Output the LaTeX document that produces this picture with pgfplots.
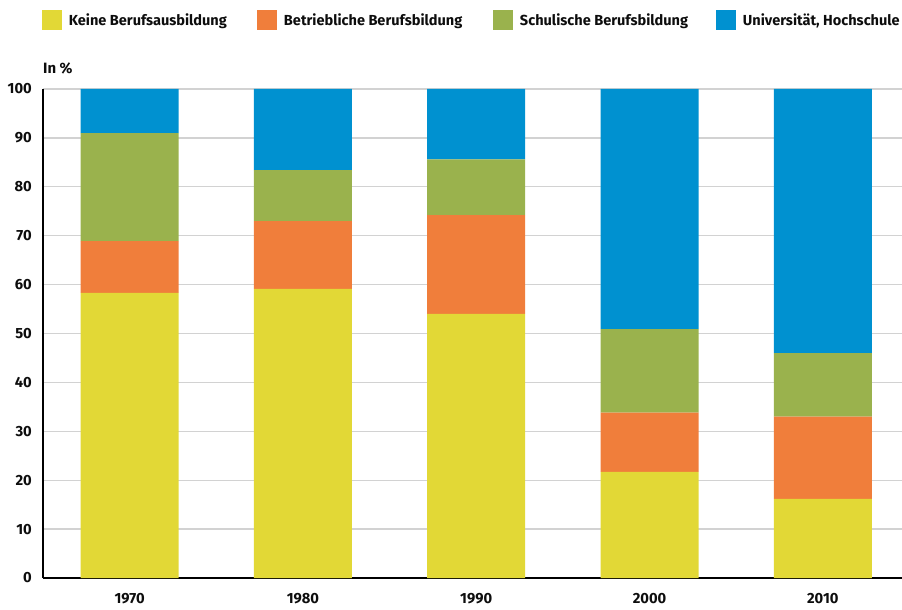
\documentclass[border=0pt]{standalone}
\usepackage{fontspec}
\setmainfont{Fira Sans}
\usepackage{pgfplots}
\pgfplotsset{compat=1.18}
\definecolor{cYel}{HTML}{E2D836}
\definecolor{cOra}{HTML}{F07E3B}
\definecolor{cGre}{HTML}{9AB24D}
\definecolor{cBlu}{HTML}{0091D0}
\definecolor{cGrid}{HTML}{D2D2D2}
\begin{document}
\begin{tikzpicture}
\begin{axis}[
  name=ax,
  scale only axis,
  width=859bp, height=489bp,
  xmin=-0.5, xmax=4.457,
  ymin=0, ymax=100,
  ybar stacked,
  bar width=98bp,
  xtick={0,1,2,3,4},
  xticklabels={1970,1980,1990,2000,2010},
  ytick={0,10,...,100},
  axis x line*=bottom,
  axis y line*=left,
  axis line style={line width=1.2bp, black, -},
  major tick length=0pt,
  ymajorgrids,
  grid style={cGrid, line width=1.3bp},
  /pgf/number format/assume math mode=true,
  ticklabel style={font=\fontsize{14.8}{17}\selectfont\bfseries, text=black!95},
  xticklabel style={anchor=north, inner sep=0pt, yshift=-15bp},
  yticklabel style={anchor=east, inner sep=0pt, xshift=-11bp},
  legend columns=4,
  legend style={draw=none, fill=none, inner sep=0pt, outer sep=0pt,
    at={(0,1)}, anchor=west, xshift=-1bp, yshift=69bp,
    font=\fontsize{14.6}{17}\selectfont\bfseries,
    nodes={inner sep=0pt, text=black!95},
    /tikz/every odd column/.append style={column sep=7bp}},
  legend image code/.code={\fill[#1,draw=none] (0bp,-10bp) rectangle (20bp,10bp);},
  clip=false,
]
\addplot[fill=cYel, draw=none] coordinates {(0,58.3) (1,59.1) (2,54.0) (3,21.7) (4,16.2)};
\addplot[fill=cOra, draw=none] coordinates {(0,10.6) (1,13.9) (2,20.2) (3,12.1) (4,16.8)};
\addplot[fill=cGre, draw=none] coordinates {(0,22.1) (1,10.4) (2,11.4) (3,17.1) (4,13.0)};
\addplot[fill=cBlu, draw=none] coordinates {(0,9.0) (1,16.6) (2,14.4) (3,49.1) (4,54.0)};
\legend{\makebox[188bp][l]{Keine Berufsausbildung},\makebox[209bp][l]{Betriebliche Berufsbildung},\makebox[196bp][l]{Schulische Berufsbildung},Universität{,} Hochschule}
\node[anchor=west, inner sep=0pt, font=\fontsize{15}{17}\selectfont\bfseries, text=black!95] at ([yshift=21bp]rel axis cs:0,1) {In \%};
\end{axis}
\pgfresetboundingbox
\path ([xshift=-43bp,yshift=-32bp]ax.south west) rectangle ([yshift=89bp]ax.north east);
\end{tikzpicture}
\end{document}
